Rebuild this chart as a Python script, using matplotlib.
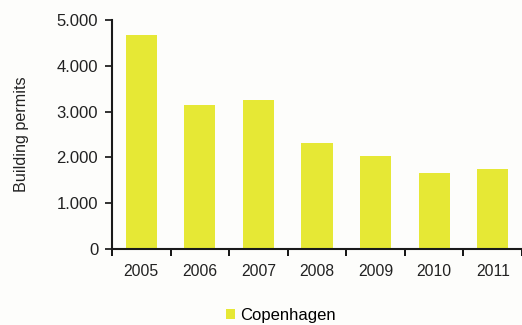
import numpy as np
import matplotlib.pyplot as plt
from matplotlib.ticker import FuncFormatter

years = ['2005', '2006', '2007', '2008', '2009', '2010', '2011']
permits = [4670, 3150, 3260, 2310, 2040, 1650, 1750]
series_name = 'Copenhagen'

plt.rcParams['font.family'] = ['Liberation Sans', 'DejaVu Sans']

fig = plt.figure(figsize=(5.22, 3.25), dpi=100, facecolor='#fdfdfb')
ax = fig.add_axes([0.2146, 0.234, 0.7854, 0.704])
ax.set_facecolor('#fdfdfb')

x = np.arange(len(years))
ax.bar(x, permits, width=0.53, color='#e6e835', label=series_name)

ax.set_xlim(-0.5, len(years) - 0.5)
ax.set_ylim(0, 5000)
ax.set_yticks(range(0, 5001, 1000))
ax.yaxis.set_major_formatter(FuncFormatter(lambda v, p: f'{int(v):,}'.replace(',', '.')))

# labels centred under bars, tick marks at category boundaries
ax.set_xticks(x)
ax.set_xticklabels(years)
ax.set_xticks(np.arange(-0.5, len(years)), minor=True)
ax.tick_params(axis='x', which='major', length=0, pad=11, labelsize=11.3, colors='#222222')
ax.tick_params(axis='x', which='minor', length=5, width=1.3, direction='out')
ax.tick_params(axis='y', length=5, width=1.3, direction='out', labelsize=12,
               pad=5, colors='#222222')

for s in ['top', 'right']:
    ax.spines[s].set_visible(False)
for s in ['left', 'bottom']:
    ax.spines[s].set_linewidth(1.5)
    ax.spines[s].set_color('#1a1a1a')

ax.set_ylabel('Building permits', fontsize=11.6, color='#222222', labelpad=20)

fig.legend(loc='center', bbox_to_anchor=(0.538, 0.03), frameon=False,
           fontsize=12, handlelength=0.55, handleheight=0.6, handletextpad=0.3,
           borderaxespad=0)

fig.savefig('out.png', dpi=100, facecolor=fig.get_facecolor())
